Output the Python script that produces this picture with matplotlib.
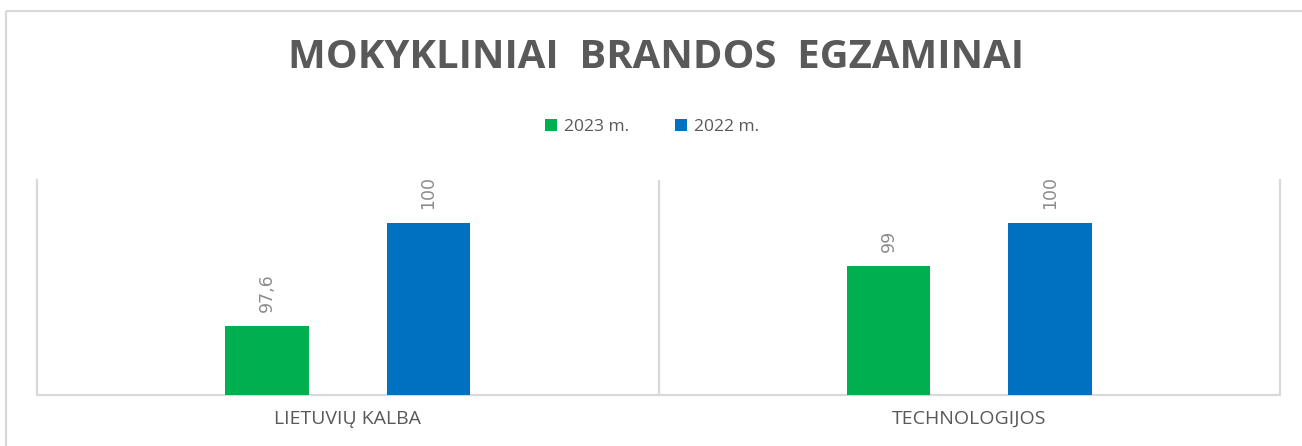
import matplotlib
matplotlib.use("Agg")
import matplotlib.pyplot as plt
from matplotlib.lines import Line2D
import numpy as np

categories = ["LIETUVIŲ KALBA", "TECHNOLOGIJOS"]
series_names = ["2023 m.", "2022 m."]
values_2023 = [97.6, 99]
values_2022 = [100, 100]
labels_2023 = ["97,6", "99"]
labels_2022 = ["100", "100"]
title = "MOKYKLINIAI  BRANDOS  EGZAMINAI"

plt.rcParams['font.family'] = ['Open Sans', 'DejaVu Sans']

fig = plt.figure(figsize=(13.02, 4.46), dpi=100)
W, H = 1302, 446

# outer frame (top and left edges visible)
fig.add_artist(Line2D([6 / W, 1.0], [1 - 11 / H, 1 - 11 / H], transform=fig.transFigure,
                      color="#d9d9d9", linewidth=1.6, solid_capstyle="butt"))
fig.add_artist(Line2D([6 / W, 6 / W], [0.0, 1 - 11 / H], transform=fig.transFigure,
                      color="#d9d9d9", linewidth=1.6, solid_capstyle="butt"))

ax = fig.add_axes([37 / W, (H - 395) / H, (1280 - 37) / W, (395 - 180) / H])
x = np.arange(len(categories))
bw = 0.135
off = 0.13
b1 = ax.bar(x - off, values_2023, bw, color="#00B050", label=series_names[0], zorder=3)
b2 = ax.bar(x + off, values_2022, bw, color="#0070C0", label=series_names[1], zorder=3)

ax.set_ylim(96, 101)
ax.set_xlim(-0.5, len(categories) - 0.5)
ax.set_yticks([])
ax.set_xticks(x)
ax.set_xticklabels(categories, fontsize=14, color="#595959")
ax.tick_params(axis="x", length=0, pad=11)

ax.spines["top"].set_visible(False)
for s in ["left", "right", "bottom"]:
    ax.spines[s].set_color("#d9d9d9")
    ax.spines[s].set_linewidth(1.6)
for xv in np.arange(0.5, len(categories) - 0.5, 1):
    ax.axvline(xv, color="#d9d9d9", linewidth=1.6, zorder=1)

for bars, labs in [(b1, labels_2023), (b2, labels_2022)]:
    for rect, lab in zip(bars, labs):
        ax.annotate(lab, (rect.get_x() + rect.get_width() / 2, rect.get_height() + rect.get_y()),
                    xytext=(0, 10), textcoords="offset points", rotation=90,
                    ha="center", va="bottom", fontsize=12.5, color="#8c8c8c",
                    family="DejaVu Sans")

fig.text(656 / W, 1 - 58 / H, title, ha="center", va="center", fontsize=28.8,
         fontweight="bold", color="#595959")

leg = fig.legend(handles=[b1, b2], labels=series_names, loc="center",
                 bbox_to_anchor=(652 / W, 1 - 127 / H), ncol=2, frameon=False,
                 fontsize=12.5, handlelength=0.7, handleheight=0.7, handletextpad=0.4,
                 columnspacing=2.6)
for t in leg.get_texts():
    t.set_color("#595959")

fig.savefig("out.png", dpi=100)
